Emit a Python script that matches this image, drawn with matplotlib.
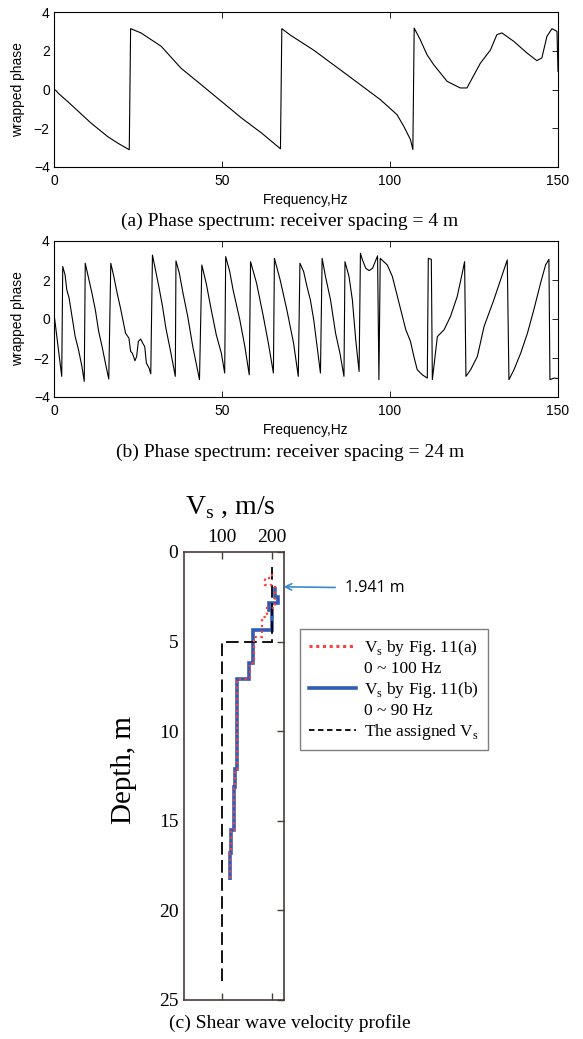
import matplotlib
matplotlib.use("Agg")
import matplotlib.pyplot as plt
from matplotlib.lines import Line2D

plt.rcParams['mathtext.fontset'] = 'custom'
plt.rcParams['mathtext.rm'] = 'Liberation Serif'

# (a) phase spectrum, receiver spacing 4 m
freq_4m = [0, 0.5, 1.5, 4, 7, 11, 15.9, 18.9, 22.4, 22.8, 25.9, 31.9, 37.8, 43.8, 49.8, 55.8,
           61.8, 67.4, 67.8, 70.4, 77.3, 87.2, 97.1, 102.1, 104.1, 106.1, 106.8, 107.2,
           109.0, 111.0, 113, 117, 120.9, 122.9, 126.9, 129.9, 131.8, 133.3, 136.8, 140.8,
           143.7, 145.2, 146.7, 148.2, 149.7, 150]
phase_4m = [0, -0.04, -0.23, -0.61, -1.09, -1.73, -2.42, -2.76, -3.11, 3.14, 2.92, 2.23, 1.1,
            0.25, -0.61, -1.47, -2.25, -3.06, 3.14, 2.8, 2.03, 0.76, -0.52, -1.3, -1.9,
            -2.59, -3.1, 3.17, 2.57, 1.8, 1.28, 0.42, 0.08, 0.08, 1.36, 2.04, 2.83, 2.92,
            2.49, 1.88, 1.49, 1.63, 2.74, 3.14, 3.0, 0.94]

# (b) phase spectrum, receiver spacing 24 m
freq_24m = [0.2, 2.3, 2.6, 3.3, 3.8, 4.5, 5.3, 6.3, 7.3, 8.3, 9.0,
            9.3, 10.3, 11.3, 12.3, 13.3, 14.3, 15.3, 16.3,
            16.9, 17.8, 18.8, 19.8, 21.3, 22.3, 22.8, 23.3, 24.1, 24.6, 25.1, 25.8, 26.5,
            27.0, 27.5, 28.3, 28.8,
            29.3, 30.3, 31.3, 32.3, 33.3, 34.8, 36.1,
            36.3, 37.3, 38.3, 39.8, 41.3, 43.3,
            44.0, 45.3, 46.8, 48.3, 49.8, 50.8,
            51.1, 52.3, 53.3, 55.3, 56.8, 58.1,
            58.5, 60.3, 62.3, 63.8, 65.3,
            65.6, 67.3, 69.3, 71.3, 72.7,
            73.2, 74.3, 75.3, 76.3, 77.3, 78.3, 79.3,
            79.8, 80.8, 82.3, 83.8, 85.1, 86.3,
            86.6, 87.8, 88.8, 89.8, 90.8,
            91.2, 91.8, 92.8, 93.8, 94.8, 95.8, 96.3,
            96.7, 97.1, 99.2, 100.7, 102.2, 103.7, 104.7, 106.1, 107.1, 108.1, 109.6, 111.1,
            111.4, 112.3, 112.6, 114.1, 116.1, 118.0, 120.0, 121.5, 122.2,
            122.6, 124.0, 126.0, 128.0, 130.9, 132.9, 134.9,
            135.4, 136.9, 138.9, 140.9, 142.8, 144.8, 146.3, 147.3,
            147.6, 148.8, 149.8]
phase_24m = [0, -2.94, 2.69, 2.26, 1.5, 1.07, 0.21, -0.9, -1.58, -2.43, -3.2,
             2.86, 2.09, 1.32, 0.47, -0.64, -1.41, -2.26, -3.08,
             2.86, 2.18, 1.32, 0.55, -0.73, -0.98, -1.66, -1.75, -2.14, -1.92, -1.15, -1.03,
             -1.27, -1.41, -2.26, -2.52, -2.81,
             3.28, 2.43, 1.58, 0.64, -0.47, -1.75, -2.94,
             2.98, 2.35, 1.41, 0.13, -1.41, -3.11,
             2.77, 1.83, 0.47, -0.81, -1.75, -2.77,
             3.2, 2.43, 1.49, -0.04, -1.41, -2.86,
             2.94, 1.83, 0.13, -1.24, -2.77,
             3.11, 2.01, 0.47, -1.24, -2.94,
             2.86, 2.43, 1.66, 0.98, -0.04, -1.41, -2.77,
             3.11, 2.18, 0.98, -0.73, -1.75, -2.94,
             2.94, 2.18, 0.98, -1.07, -2.69,
             3.37, 3.03, 2.6, 2.48, 2.6, 3.03, 3.24,
             -3.11, 3.11, 2.77, 2.18, 1.15, 0.13, -0.55, -1.15, -1.92, -2.6, -2.86, -3.03,
             3.11, 3.06, -3.11, -0.9, -0.55, 0.13, 1.15, 2.35, 2.94,
             -2.94, -2.6, -1.92, -0.38, 0.98, 2.0, 3.03,
             -3.11, -2.6, -1.75, -0.73, 0.47, 1.83, 2.77, 3.06,
             -3.11, -3.03, -3.05]

# (c) shear wave velocity profiles (layer edges in m, Vs in m/s)
depth_a = [1.25, 1.47, 1.85, 3.1, 3.6, 4.75, 6.2, 7.1, 12.1, 13.1, 15.5, 16.8, 18.3]
vs_a = [199, 186, 206, 190, 179, 163, 155, 129, 125, 123, 118, 116]
depth_b = [1.941, 2.5, 2.87, 3.24, 4.36, 6.18, 7.1, 12.1, 13.1, 15.5, 16.8, 18.3]
vs_b = [206, 211, 193, 200, 161, 153, 129, 125, 123, 118, 116]
depth_assigned = [0.85, 5, 24]
vs_assigned = [200, 100]

W, H = 583, 1039
fig = plt.figure(figsize=(W / 100, H / 100), dpi=100)


def box(l, t, r, b):
    return [l / W, 1 - b / H, (r - l) / W, (b - t) / H]


sans = 'Liberation Sans'
serif = 'Liberation Serif'
red = '#ff3d3d'
blue = '#2f5db5'
spine_c = '#4a3b3b'

panels = [(freq_4m, phase_4m, 12, 167, '(a) Phase spectrum: receiver spacing = 4 m', 221),
          (freq_24m, phase_24m, 241, 397, '(b) Phase spectrum: receiver spacing = 24 m', 452)]

for freq, phase, top, bot, caption, cap_y in panels:
    ax = fig.add_axes(box(54, top, 558, bot))
    ax.plot(freq, phase, color='black', lw=0.8)
    ax.set_xlim(0, 150)
    ax.set_ylim(-4, 4)
    ax.set_xticks([0, 50, 100, 150])
    ax.set_yticks([-4, -2, 0, 2, 4])
    ax.tick_params(axis='x', direction='in', top=True, length=4, width=0.6, labelsize=10, pad=5)
    ax.tick_params(axis='y', direction='in', left=False, right=True, length=4, width=0.6,
                   labelsize=10, pad=3)
    for lab in ax.get_xticklabels() + ax.get_yticklabels():
        lab.set_family(sans)
    for s in ax.spines.values():
        s.set_linewidth(0.8)
    ax.set_xlabel('Frequency,Hz', family=sans, fontsize=10)
    ax.xaxis.set_label_coords(0.5, -0.165)
    ax.set_ylabel('wrapped phase', family=sans, fontsize=10)
    ax.yaxis.set_label_coords(-0.058, 0.5)
    fig.text(290 / W, 1 - cap_y / H, caption, family=serif, fontsize=14,
             ha='center', va='center')

# (c) velocity profile
ax3 = fig.add_axes(box(184, 552, 283.5, 1000))
ax3.stairs(vs_b, depth_b, orientation='horizontal', baseline=None, color=blue, lw=2.6)
ax3.stairs(vs_assigned, depth_assigned, orientation='horizontal', baseline=None,
           color='black', lw=1.3, linestyle=(0, (7, 3)))
ax3.stairs(vs_a, depth_a, orientation='horizontal', baseline=None, color=red, lw=1.6,
           linestyle=(0, (1, 1.6)))
ax3.set_xlim(24, 223)
ax3.set_ylim(25, 0)
ax3.set_xticks([100, 200])
ax3.set_yticks([0, 5, 10, 15, 20, 25])
ax3.tick_params(axis='x', direction='in', top=True, bottom=True, labeltop=True,
                labelbottom=False, length=5, width=1, color=spine_c, labelsize=14, pad=4)
ax3.tick_params(axis='y', direction='in', left=False, right=True, length=5, width=1,
                color=spine_c, labelsize=14, pad=4)
for lab in ax3.get_xticklabels() + ax3.get_yticklabels():
    lab.set_family(serif)
for s in ax3.spines.values():
    s.set_linewidth(1.2)
    s.set_color(spine_c)

fig.text(230 / W, 1 - 514 / H, 'V$_\\mathregular{s}$ , m/s', family=serif, fontsize=20,
         ha='center', va='baseline')
fig.text(124 / W, 1 - 770 / H, 'Depth, m', family=serif, fontsize=21, rotation=90,
         ha='center', va='center')

ax3.annotate('1.941 m', xy=(223, 1.941), xycoords='data',
             xytext=(345 / W, 1 - 588 / H), textcoords='figure fraction',
             ha='left', va='center', family='Open Sans', fontsize=11.5,
             annotation_clip=False,
             arrowprops=dict(arrowstyle='->', color='#3a8ad0', lw=1.2, shrinkA=5, shrinkB=0))

blank = Line2D([], [], color='none')
handles = [Line2D([], [], color=red, lw=2.2, linestyle=(0, (1, 1.2))), blank,
           Line2D([], [], color=blue, lw=2.6), blank,
           Line2D([], [], color='black', lw=1.3, linestyle=(0, (3, 2)))]
labels = ['V$_\\mathregular{s}$ by Fig. 11(a)', '0 ~ 100 Hz',
          'V$_\\mathregular{s}$ by Fig. 11(b)', '0 ~ 90 Hz',
          'The assigned V$_\\mathregular{s}$']
fig.legend(handles, labels, loc='upper left', bbox_to_anchor=(300 / W, 1 - 629 / H),
           frameon=True, fancybox=False, edgecolor='#7f7f7f', framealpha=1,
           prop={'family': serif, 'size': 12.5}, handlelength=2.7, handletextpad=0.5,
           labelspacing=0.17, borderpad=0.5, borderaxespad=0)

fig.text(290 / W, 1 - 1023 / H, '(c) Shear wave velocity profile', family=serif,
         fontsize=14, ha='center', va='center')

fig.savefig('out.png', dpi=100)
